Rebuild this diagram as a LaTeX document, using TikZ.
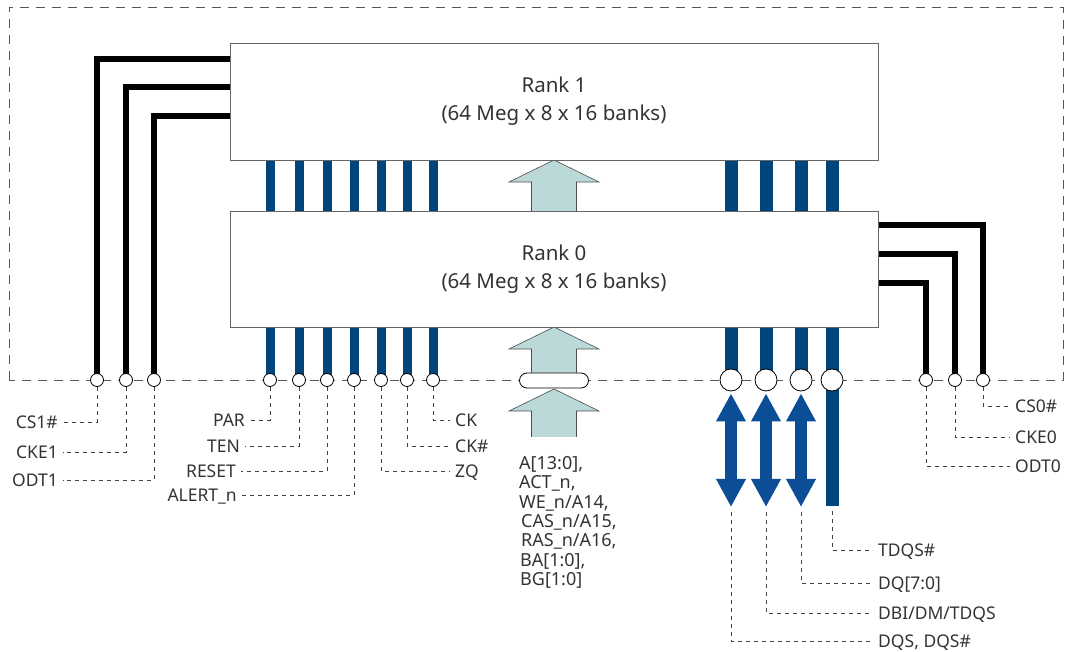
\documentclass[tikz,border=0pt]{standalone}
\usepackage{fontspec}
\setmainfont{Noto Sans}
\usetikzlibrary{arrows.meta,backgrounds}
\definecolor{busblue}{HTML}{00447C}
\definecolor{dqblue}{HTML}{0B4E96}
\definecolor{addrfill}{HTML}{BCD9D9}
\definecolor{txtgray}{HTML}{333333}
\begin{document}
\begin{tikzpicture}[>=latex,line join=miter,
  rank/.style={draw=black!60,fill=white,minimum width=648bp,minimum height=117bp,align=center,text=txtgray,font=\fontsize{20.5bp}{28bp}\selectfont},
  pad/.style={circle,draw=black,fill=white,inner sep=0pt,minimum size=13bp,line width=0.8bp},
  dqpad/.style={pad,minimum size=22bp},
  sig/.style={text=txtgray,inner sep=3bp,text height=12.4bp,text depth=0pt,font=\fontsize{17.5bp}{19bp}\selectfont},
  addrtxt/.style={text=txtgray,inner sep=0pt,align=left,font=\fontsize{18bp}{19.4bp}\selectfont},
  lead/.style={draw=black!75,line width=0.8bp,dash pattern=on 4bp off 4bp,shorten >=2bp},
  ctl/.style={draw=black,line width=6bp},
  cmd/.style={draw=busblue,line width=9bp},
  dq/.style={draw=busblue,line width=13bp},
  dqs/.style={draw=dqblue,line width=12bp,{Triangle[length=28bp,width=28bp]}-{Triangle[length=28bp,width=28bp]}},
  addr/.style={fill=addrfill,draw=black!70,line width=0.6bp},
  frame/.style={draw=black!65,line width=0.9bp,dash pattern=on 9bp off 7bp}]
\useasboundingbox (0,0) rectangle (1067bp,652bp);
%%
\node (rank_1) at (554bp,550.5bp) [rank] {Rank 1\\(64 Meg x 8 x 16 banks)};
\node (rank_0) at (554bp,383bp) [rank,minimum height=116bp] {Rank 0\\(64 Meg x 8 x 16 banks)};
%
\foreach \n/\x in {cs1/97,cke1/126,odt1/154,par/270,ten/299,reset/327,alert/354,zq/381,ckb/407,ck/433,odt0/926,cke0/955,cs0/983}
  \node (pad_\n) at (\x bp,272bp) [pad] {};
\foreach \n/\x in {dqs/731,dbi/766,dq/801,tdqs/832}
  \node (pad_\n) at (\x bp,272bp) [dqpad] {};
\node (pad_addr) at (554bp,271.5bp) [draw,fill=white,rounded corners=7.5bp,minimum width=69bp,minimum height=15bp,inner sep=0pt,line width=0.8bp] {};
\coordinate (end_dqs) at (731bp,145bp);
\coordinate (end_dbi) at (766bp,145bp);
\coordinate (end_dq) at (801bp,145bp);
\coordinate (end_tdqs) at (832bp,146bp);
%
\node (sig_cs1) at (61bp,230bp) [sig,anchor=east] {CS1\#};
\node (sig_cke1) at (61bp,200bp) [sig,anchor=east] {CKE1};
\node (sig_odt1) at (61bp,172bp) [sig,anchor=east] {ODT1};
\node (sig_par) at (248bp,232bp) [sig,anchor=east] {PAR};
\node (sig_ten) at (243bp,206bp) [sig,anchor=east] {TEN};
\node (sig_reset) at (239bp,181bp) [sig,anchor=east] {RESET};
\node (sig_alert) at (240bp,157bp) [sig,anchor=east] {ALERT\_n};
\node (sig_ck) at (452bp,232bp) [sig,anchor=west] {CK};
\node (sig_ckb) at (452bp,206bp) [sig,anchor=west] {CK\#};
\node (sig_zq) at (452bp,181bp) [sig,anchor=west] {ZQ};
\node (sig_cs0) at (1012bp,246bp) [sig,anchor=west] {CS0\#};
\node (sig_cke0) at (1012bp,215bp) [sig,anchor=west] {CKE0};
\node (sig_odt0) at (1012bp,186bp) [sig,anchor=west] {ODT0};
\node (sig_tdqs) at (875bp,102bp) [sig,anchor=west] {TDQS\#};
\node (sig_dq) at (875bp,69bp) [sig,anchor=west] {DQ[7:0]};
\node (sig_dbi) at (875bp,39bp) [sig,anchor=west] {DBI/DM/TDQS};
\node (sig_dqs) at (875bp,11bp) [sig,anchor=west] {DQS, DQS\#};
\node (sig_addr) at (519bp,196bp) [addrtxt,anchor=north west] {A[13:0],\\ACT\_n,\\WE\_n/A14,\\\hspace*{2bp}CAS\_n/A15,\\\hspace*{2bp}RAS\_n/A16,\\\hspace*{1bp}BA[1:0],\\\hspace*{1bp}BG[1:0]};
%
\begin{pgfonlayer}{background}
\draw [frame] (9bp,272bp) rectangle (1063bp,645bp);
\draw [ctl] ([yshift=42.5bp]rank_1.west) -| (pad_cs1.center);
\draw [ctl] ([yshift=14.5bp]rank_1.west) -| (pad_cke1.center);
\draw [ctl] ([yshift=-14.5bp]rank_1.west) -| (pad_odt1.center);
\draw [ctl] ([yshift=44bp]rank_0.east) -| (pad_cs0.center);
\draw [ctl] ([yshift=15bp]rank_0.east) -| (pad_cke0.center);
\draw [ctl] ([yshift=-14bp]rank_0.east) -| (pad_odt0.center);
\foreach \n in {par,ten,reset,alert,zq,ckb,ck}{
  \draw [cmd] (rank_1.south -| pad_\n) -- (rank_0.north -| pad_\n);
  \draw [cmd] (rank_0.south -| pad_\n) -- (pad_\n.center);}
\foreach \n in {dqs,dbi,dq,tdqs}{
  \draw [dq] (rank_1.south -| pad_\n) -- (rank_0.north -| pad_\n);
  \draw [dq] (rank_0.south -| pad_\n) -- (pad_\n.center);}
\draw [dq] (pad_tdqs.center) -- (end_tdqs);
\foreach \tip/\base/\tail in {492/470/441,325/303/279,263/241/215}
  \filldraw [addr] (531.5bp,\tail bp) -- (531.5bp,\base bp) -- (509bp,\base bp) -- (554bp,\tip bp) -- (599bp,\base bp) -- (576.5bp,\base bp) -- (576.5bp,\tail bp);
\end{pgfonlayer}
%
\foreach \n in {dqs,dbi,dq}
  \draw [dqs] ([yshift=-2bp]pad_\n.south) -- (end_\n);
%
\draw [lead] (pad_cs1) |- (sig_cs1);
\draw [lead] (pad_cke1) |- (sig_cke1);
\draw [lead] (pad_odt1) |- (sig_odt1);
\draw [lead] (pad_par) |- (sig_par);
\draw [lead] (pad_ten) |- (sig_ten);
\draw [lead] (pad_reset) |- (sig_reset);
\draw [lead] (pad_alert) |- (sig_alert);
\draw [lead] (pad_ck) |- (sig_ck);
\draw [lead] (pad_ckb) |- (sig_ckb);
\draw [lead] (pad_zq) |- (sig_zq);
\draw [lead] (pad_cs0) |- (sig_cs0);
\draw [lead] (pad_cke0) |- (sig_cke0);
\draw [lead] (pad_odt0) |- (sig_odt0);
\draw [lead,shorten <=5bp] (end_tdqs) |- (sig_tdqs);
\draw [lead,shorten <=5bp] (end_dq) |- (sig_dq);
\draw [lead,shorten <=5bp] (end_dbi) |- (sig_dbi);
\draw [lead,shorten <=5bp] (end_dqs) |- (sig_dqs);
%
\end{tikzpicture}
\end{document}
